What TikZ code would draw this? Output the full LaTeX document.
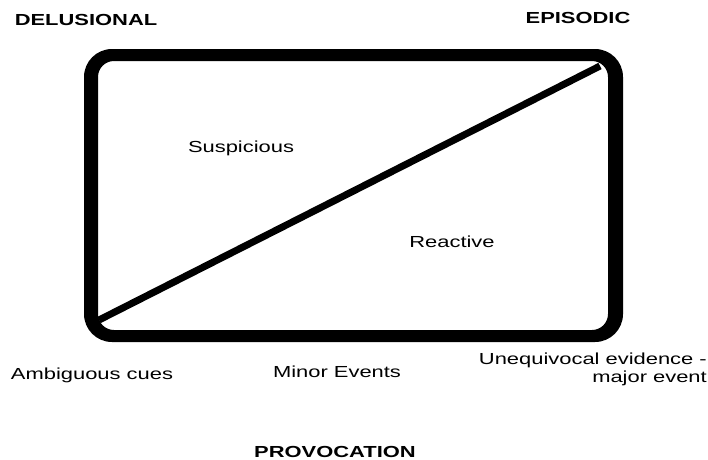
\documentclass[tikz,border=0pt]{standalone}
\usepackage{fontspec}
\setmainfont[FakeStretch=1.37]{Liberation Sans}
\begin{document}
\begin{tikzpicture}[x=1pt,y=-1pt,
    heading/.style={font=\fontsize{16}{18}\selectfont\bfseries, inner sep=0pt, anchor=base},
    zonetext/.style={font=\fontsize{16}{18}\selectfont, inner sep=0pt, anchor=base}]
    \useasboundingbox (0,0) rectangle (708,459);

    % Frame (sides drawn heavier than top and bottom)
    \fill[even odd rule, rounded corners=28pt] (84,49) rectangle (623,342)
        [rounded corners=16pt] (98,61) rectangle (608,330);

    % Diagonal
    \coordinate (low) at (99,320);
    \coordinate (high) at (600,66);
    \draw[line width=7pt] (low) -- (high);

    % Corner titles
    \node[heading] (delusional) at (86,25) {DELUSIONAL};
    \node[heading] (episodic) at (578,23) {EPISODIC};

    % Zones
    \node[zonetext] (suspicious) at (241,152) {Suspicious};
    \node[zonetext] (reactive) at (452,247) {Reactive};

    % Scale below the frame
    \node[zonetext] (ambiguous) at (92,379) {Ambiguous cues};
    \node[zonetext] (minor) at (337,377) {Minor Events};
    \node[zonetext, anchor=north east, align=right] (unequivocal) at (707,353) {Unequivocal evidence -\\major event};
    \node[heading] (provocation) at (335,457) {PROVOCATION};
\end{tikzpicture}
\end{document}
